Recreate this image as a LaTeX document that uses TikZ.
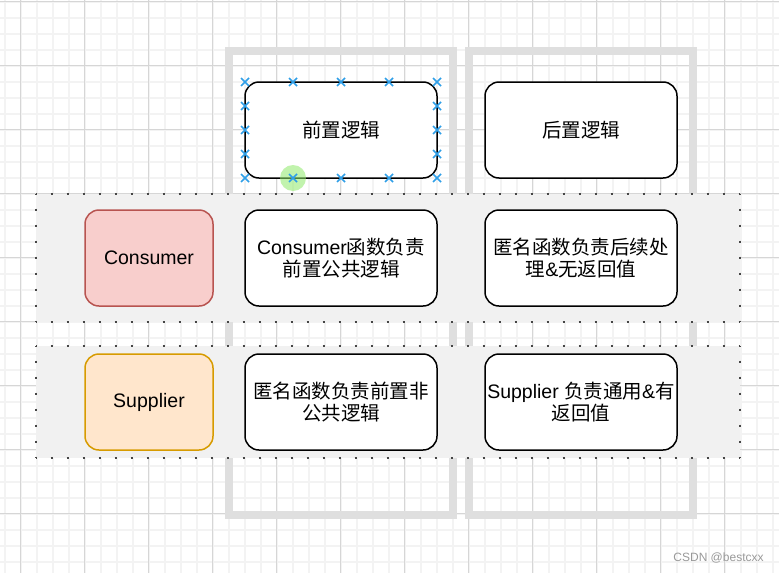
\documentclass[tikz,border=0pt]{standalone}
\usepackage{fontspec}
\setmainfont{Liberation Sans}
\newfontfamily\cjk{Noto Sans CJK SC}
\usetikzlibrary{calc}

\definecolor{gridminor}{HTML}{F3F3F3}
\definecolor{gridmajor}{HTML}{D6D6D6}
\definecolor{colgrey}{HTML}{DFDFDF}
\definecolor{bandfill}{HTML}{F1F1F1}
\definecolor{dotgrey}{HTML}{454545}
\definecolor{redfill}{HTML}{F8CECC}
\definecolor{redline}{HTML}{B85450}
\definecolor{orangefill}{HTML}{FFE6CC}
\definecolor{orangeline}{HTML}{D79B00}
\definecolor{handleblue}{HTML}{2F9FE8}
\definecolor{hovergreen}{HTML}{8FEA6A}

\tikzset{
  box/.style={draw=black, line width=0.75pt, fill=white, rounded corners=7pt,
    minimum width=96pt, minimum height=48pt, inner sep=0pt, align=center,
    font=\fontsize{9.75}{11}\selectfont},
  sidebox/.style={box, minimum width=64pt},
  colframe/.style={draw=colgrey, line width=4pt},
  band/.style={fill=bandfill},
  bandedge/.style={draw=dotgrey, line width=1.4pt, line cap=butt,
    dash pattern=on 1.4pt off 6.6pt, dash phase=0.7pt},
  handle/.style={draw=handleblue, line width=0.8pt}
}

\begin{document}
\begin{tikzpicture}[x=0.5pt, y=-0.5pt]

 \useasboundingbox (0,0) rectangle (779,573);
 \fill[white] (0,0) rectangle (779,573);

 %grid
 \foreach \k in {0,...,48} {
   \draw[gridminor, line width=1pt] (4.5+16*\k,0) -- (4.5+16*\k,573);
 }
 \foreach \k in {0,...,36} {
   \draw[gridminor, line width=1pt] (0,1.5+16*\k) -- (779,1.5+16*\k);
 }
 \foreach \k in {0,...,12} {
   \draw[gridmajor, line width=0.5pt] (20.5+64*\k,0) -- (20.5+64*\k,573);
 }
 \foreach \k in {0,...,8} {
   \draw[gridmajor, line width=0.5pt] (0,1.5+64*\k) -- (779,1.5+64*\k);
 }

 %columns
 \draw[colframe] (229,50.5) rectangle (453,514.5);
 \draw[colframe] (469,50.5) rectangle (693,514.5);

 %rows
 \fill[band] (36,194) rectangle (740,322);
 \fill[band] (36,346) rectangle (740,458);
 \foreach \ya/\yb in {194/322, 346/458} {
   \draw[bandedge] (36,\ya) -- (740,\ya);
   \draw[bandedge] (36,\yb) -- (740,\yb);
   \draw[bandedge] (36,\ya) -- (36,\yb);
   \draw[bandedge] (740,\ya) -- (740,\yb);
 }

 %top row
 \node[box] (pre)  at (341,130) {{\cjk 前置逻辑}};
 \node[box] (post) at (581,130) {{\cjk 后置逻辑}};

 %row 1
 \node[sidebox, fill=redfill, draw=redline] (consumer) at (149,258) {Consumer};
 \node[box] (conPub)   at (341,258) {Consumer{\cjk 函数负责}\\{\cjk 前置公共逻辑}};
 \node[box] (anonPost) at (581,258) {{\cjk 匿名函数负责后续处}\\{\cjk 理}\&{\cjk 无返回值}};

 %row 2
 \node[sidebox, fill=orangefill, draw=orangeline] (supplier) at (149,402) {Supplier};
 \node[box] (anonPre)   at (341,402) {{\cjk 匿名函数负责前置非}\\{\cjk 公共逻辑}};
 \node[box] (supCommon) at (581,402) {Supplier {\cjk 负责通用}\&{\cjk 有}\\{\cjk 返回值}};

 %selection handles
 \fill[hovergreen, opacity=0.55] (293,178) circle (6.5pt);
 \foreach \x in {245,293,341,389,437} {
   \foreach \y in {82,178} {
     \draw[handle] (\x-4,\y-4) -- (\x+4,\y+4) (\x-4,\y+4) -- (\x+4,\y-4);
   }
 }
 \foreach \y in {106,130,154} {
   \foreach \x in {245,437} {
     \draw[handle] (\x-4,\y-4) -- (\x+4,\y+4) (\x-4,\y+4) -- (\x+4,\y-4);
   }
 }

 \node[gray!80, font=\fontsize{6}{7}\selectfont, anchor=east, inner sep=0pt] (mark) at (764,558) {CSDN @bestcxx};

\end{tikzpicture}
\end{document}
